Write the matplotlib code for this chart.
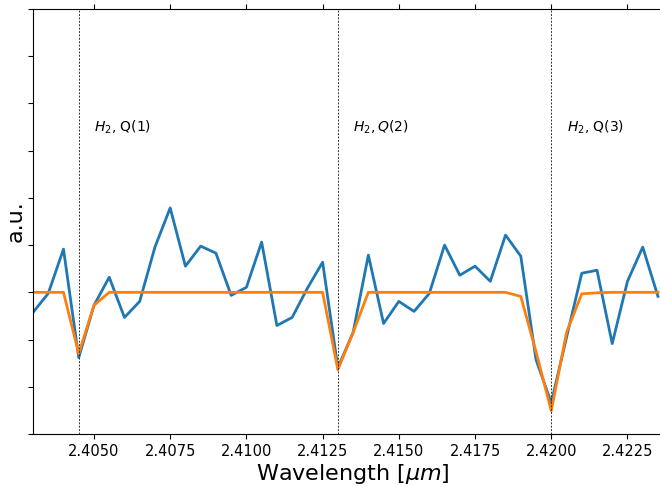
import numpy as np
import matplotlib
matplotlib.use("Agg")
import matplotlib.pyplot as plt

# wavelength grid (micron)
wavelength = [2.4030 + 0.0005 * i for i in range(42)]

observed = [0.9787, 0.9989, 1.0457, 0.9309, 0.9862, 1.0160, 0.9734, 0.9904,
            1.0479, 1.0894, 1.0277, 1.0489, 1.0415, 0.9968, 1.0053, 1.0532,
            0.9649, 0.9734, 1.0043, 1.0319, 0.9202, 0.9574, 1.0394, 0.9670,
            0.9904, 0.9798, 0.9989, 1.0500, 1.0181, 1.0277, 1.0117, 1.0606,
            1.0383, 0.9287, 0.8830, 0.9521, 1.0202, 1.0234, 0.9457, 1.0117,
            1.0479, 0.9957]

model = [1.0, 1.0, 1.0, 0.9351, 0.9862, 1.0, 1.0, 1.0,
         1.0, 1.0, 1.0, 1.0, 1.0, 1.0, 1.0, 1.0,
         1.0, 1.0, 1.0, 1.0, 0.9181, 0.9574, 1.0, 1.0,
         1.0, 1.0, 1.0, 1.0, 1.0, 1.0, 1.0, 1.0,
         0.9957, 0.9372, 0.8745, 0.9574, 0.9984, 0.9995, 1.0, 1.0,
         1.0, 1.0]

line_positions = [2.4045, 2.4130, 2.4200]
line_labels = [r"$H_2$, Q(1)", r"$H_2, Q(2)$", r"$H_2$, Q(3)"]
label_x = [2.4050, 2.4135, 2.4205]
label_y = 1.17

xticks = [2.4050, 2.4075, 2.4100, 2.4125, 2.4150, 2.4175, 2.4200, 2.4225]
yticks = [0.85 + 0.05 * k for k in range(10)]

fig = plt.figure(figsize=(6.6, 4.87), dpi=100)
ax = fig.add_axes([33 / 660, 53 / 487, 640 / 660, 425 / 487])

ax.plot(wavelength, observed, color="#1f77b4", lw=2)
ax.plot(wavelength, model, color="#ff7f0e", lw=2)

for xp in line_positions:
    ax.axvline(xp, color="#333333", ls="--", lw=0.7, dashes=(2, 1.5))
for lx, lt in zip(label_x, line_labels):
    ax.text(lx, label_y, lt, fontsize=10, va="baseline", ha="left",
            family="DejaVu Sans")

x_left = 2.4030
x_right = x_left + (640 / 30486.0)
ax.set_xlim(x_left, x_right)
ax.set_ylim(0.85, 1.30)
ax.set_xticks(xticks)
ax.set_xticklabels([f"{v:.4f}" for v in xticks], fontsize=10.5)
ax.set_yticks(yticks)
ax.set_yticklabels([])
ax.tick_params(axis="x", top=True, direction="out")
ax.spines["right"].set_visible(False)

ax.set_xlabel(r"Wavelength [$\mu m$]", fontsize=16, labelpad=2)
ax.set_ylabel("a.u.", fontsize=16)
ax.yaxis.set_label_coords(-0.012, 0.5)

fig.savefig("out.png", dpi=100)
